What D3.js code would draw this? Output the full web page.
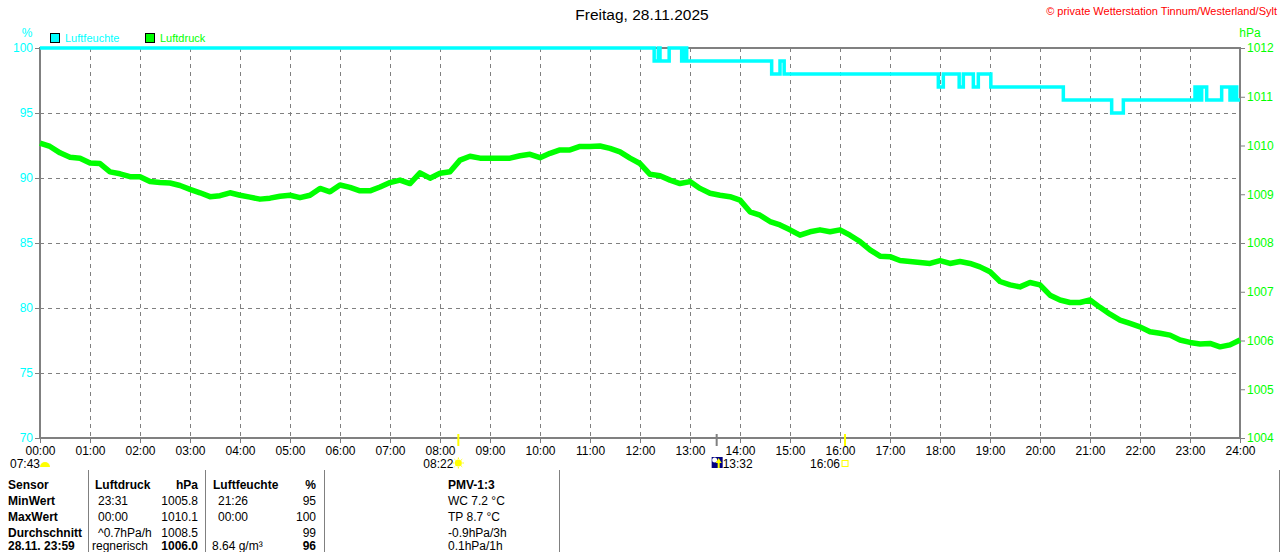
<!DOCTYPE html>
<html>
<head>
<meta charset="utf-8">
<script src="https://cdn.jsdelivr.net/npm/d3@7"></script>
<style>
  body { margin: 0; background: #fff; }
  svg { display: block; font-family: "Liberation Sans", Arial, sans-serif; }
</style>
</head>
<body>
<div class="chart"></div>
<script>
// Luftdruck (hPa), one reading every 12 minutes from 00:00 to 24:00
const pressureStepMin = 12;
const pressure = [
  1010.05, 1009.98, 1009.85, 1009.76, 1009.74, 1009.64, 1009.63, 1009.46, 1009.42, 1009.36,
  1009.36, 1009.26, 1009.24, 1009.23, 1009.18, 1009.10, 1009.03, 1008.95, 1008.97, 1009.03,
  1008.98, 1008.94, 1008.90, 1008.92, 1008.96, 1008.98, 1008.93, 1008.98, 1009.12, 1009.05,
  1009.19, 1009.14, 1009.07, 1009.07, 1009.15, 1009.24, 1009.29, 1009.22, 1009.44, 1009.33,
  1009.43, 1009.46, 1009.70, 1009.78, 1009.74, 1009.74, 1009.74, 1009.74, 1009.79, 1009.82,
  1009.75, 1009.84, 1009.91, 1009.91, 1009.98, 1009.98, 1009.99, 1009.94, 1009.87, 1009.74,
  1009.63, 1009.41, 1009.38, 1009.29, 1009.22, 1009.26, 1009.12, 1009.02, 1008.98, 1008.95,
  1008.88, 1008.64, 1008.57, 1008.44, 1008.37, 1008.27, 1008.16, 1008.23, 1008.27, 1008.23,
  1008.27, 1008.16, 1008.03, 1007.86, 1007.73, 1007.72, 1007.64, 1007.62, 1007.60, 1007.58,
  1007.64, 1007.58, 1007.62, 1007.58, 1007.51, 1007.41, 1007.21, 1007.14, 1007.10, 1007.19,
  1007.14, 1006.93, 1006.83, 1006.78, 1006.78, 1006.83, 1006.68, 1006.54, 1006.42, 1006.35,
  1006.28, 1006.18, 1006.15, 1006.11, 1006.01, 1005.96, 1005.93, 1005.94, 1005.87, 1005.91,
  1006.01
];

// Luftfeuchte (%), value changes
const humTimes = ["00:00", "12:17", "12:22", "12:24", "12:35", "12:50", "12:54", "12:56", "12:59",
  "14:38", "14:48", "14:53", "17:58", "18:04", "18:23", "18:28", "18:40", "18:46", "19:01",
  "20:28", "21:26", "21:40", "23:06", "23:10", "23:14", "23:20", "23:38", "23:48", "23:52",
  "23:56", "24:00"];
const humValues = [100, 99, 100, 99, 100, 99, 100, 99, 99,
  98, 99, 98, 97, 98, 97, 98, 97, 98, 97,
  96, 95, 96, 97, 96, 97, 96, 97, 96, 97,
  96, 96];

const hourLabels = d3.range(0, 25).map(h => String(h).padStart(2, "0") + ":00");
const humTicks = [70, 75, 80, 85, 90, 95, 100];
const pressTicks = [1004, 1005, 1006, 1007, 1008, 1009, 1010, 1011, 1012];

// table below chart
const tableHead = ["Sensor", "Luftdruck", "hPa", "Luftfeuchte", "%"];
const tableRows = [
  ["MinWert", "23:31", "1005.8", "21:26", "95"],
  ["MaxWert", "00:00", "1010.1", "00:00", "100"],
  ["Durchschnitt", "^0.7hPa/h", "1008.5", "", "99"],
  ["28.11. 23:59", "regnerisch", "1006.0", "8.64 g/m³", "96"]
];
const pmvLines = ["PMV-1:3", "WC 7.2 °C", "TP 8.7 °C", "-0.9hPa/3h", "0.1hPa/1h"];

const toMin = s => { const p = s.split(":"); return +p[0] * 60 + +p[1]; };

const width = 1280, height = 552;
const margin = ({ top: 48, right: 40, bottom: 114, left: 40 });

const svg = d3.select(".chart").append("svg")
  .attr("width", width)
  .attr("height", height);

const x = d3.scaleLinear().domain([0, 1440]).range([margin.left, width - margin.right]);
const yH = d3.scaleLinear().domain([70, 100]).range([height - margin.bottom, margin.top]);
const yP = d3.scaleLinear().domain([1004, 1012]).range([height - margin.bottom, margin.top]);

const grey = "#808080";
const cyan = "#00ffff";
const green = "#00ff00";

// grid
const grid = svg.append("g");
grid.selectAll("line.v")
  .data(d3.range(1, 24))
  .join("line")
  .attr("x1", d => x(d * 60)).attr("x2", d => x(d * 60))
  .attr("y1", yH(100)).attr("y2", yH(70))
  .attr("stroke", grey).attr("stroke-dasharray", "4,4").attr("shape-rendering", "crispEdges");
grid.selectAll("line.h")
  .data([75, 80, 85, 90, 95])
  .join("line")
  .attr("x1", x(0)).attr("x2", x(1440))
  .attr("y1", d => yH(d)).attr("y2", d => yH(d))
  .attr("stroke", grey).attr("stroke-dasharray", "4,4").attr("shape-rendering", "crispEdges");

// frame
svg.append("rect")
  .attr("x", x(0)).attr("y", yH(100))
  .attr("width", x(1440) - x(0)).attr("height", yH(70) - yH(100))
  .attr("fill", "none").attr("stroke", grey).attr("stroke-width", 2);

// axes
const axL = svg.append("g")
  .attr("transform", `translate(${x(0) - 1},0)`)
  .call(d3.axisLeft(yH).tickValues(humTicks).tickSize(4).tickPadding(2));
axL.select(".domain").remove();
axL.selectAll("line").attr("stroke", grey);
axL.selectAll("text").attr("fill", cyan).attr("font-size", 12).attr("font-family", "Liberation Sans, Arial");

const axR = svg.append("g")
  .attr("transform", `translate(${x(1440) + 1},0)`)
  .call(d3.axisRight(yP).tickValues(pressTicks).tickSize(4).tickPadding(2).tickFormat(d3.format("d")));
axR.select(".domain").remove();
axR.selectAll("line").attr("stroke", grey);
axR.selectAll("text").attr("fill", green).attr("font-size", 12).attr("font-family", "Liberation Sans, Arial");

const axB = svg.append("g")
  .attr("transform", `translate(0,${yH(70) + 1})`)
  .call(d3.axisBottom(x).tickValues(d3.range(0, 1441, 60)).tickSize(4).tickPadding(3)
    .tickFormat((d, i) => hourLabels[i]));
axB.select(".domain").remove();
axB.selectAll("line").attr("stroke", grey);
axB.selectAll("text").attr("fill", "#000").attr("font-size", 12).attr("font-family", "Liberation Sans, Arial");

// unit labels
svg.append("text").attr("x", 27).attr("y", 37).attr("text-anchor", "middle")
  .attr("fill", cyan).attr("font-size", 12).text("%");
svg.append("text").attr("x", 1250).attr("y", 37).attr("text-anchor", "middle")
  .attr("fill", green).attr("font-size", 12).text("hPa");

// legend
const legend = [{ name: "Luftfeuchte", color: cyan, x: 50 }, { name: "Luftdruck", color: green, x: 145 }];
const lg = svg.append("g").selectAll("g").data(legend).join("g")
  .attr("transform", d => `translate(${d.x},33)`);
lg.append("rect").attr("x", 0.5).attr("y", 0.5).attr("width", 9).attr("height", 9)
  .attr("fill", d => d.color).attr("stroke", "#000");
lg.append("text").attr("x", 15).attr("y", 9).attr("font-size", 11)
  .attr("fill", d => d.color).text(d => d.name);

// title + copyright
svg.append("text").attr("x", 642).attr("y", 20).attr("text-anchor", "middle")
  .attr("font-size", 15.5).attr("fill", "#000").text("Freitag, 28.11.2025");
svg.append("text").attr("x", 1277).attr("y", 15).attr("text-anchor", "end")
  .attr("font-size", 11).attr("fill", "#ff0000").text("© private Wetterstation Tinnum/Westerland/Sylt");

// lines
const humData = humTimes.map((t, i) => ({ t: toMin(t), v: humValues[i] }));
svg.append("path")
  .datum(humData)
  .attr("fill", "none").attr("stroke", cyan).attr("stroke-width", 3.5)
  .attr("d", d3.line().x(d => x(d.t)).y(d => yH(d.v)).curve(d3.curveStepAfter));

const pressData = pressure.map((v, i) => ({ t: i * pressureStepMin, v: v }));
svg.append("path")
  .datum(pressData)
  .attr("fill", "none").attr("stroke", green).attr("stroke-width", 5.5)
  .attr("stroke-linejoin", "round")
  .attr("d", d3.line().x(d => x(d.t)).y(d => yP(d.v)));

// sun / moon markers
const ev = svg.append("g").attr("font-size", 12).attr("fill", "#000");
[["08:22", "#ffff00"], ["16:06", "#ffff00"], ["13:32", grey]].forEach(e => {
  ev.append("line").attr("x1", x(toMin(e[0]))).attr("x2", x(toMin(e[0])))
    .attr("y1", yH(70) - 4).attr("y2", yH(70) + 8)
    .attr("stroke", e[1]).attr("stroke-width", 2);
});
ev.append("text").attr("x", 10).attr("y", 468).text("07:43");
ev.append("path").attr("d", "M40,467 A5,5 0 0 1 50,467 Z").attr("fill", "#ffff00");
ev.append("text").attr("x", x(toMin("08:22")) - 5).attr("y", 468).attr("text-anchor", "end").text("08:22");
ev.append("circle").attr("cx", x(toMin("08:22"))).attr("cy", 463).attr("r", 3.5).attr("fill", "#ffff00");
ev.append("g").attr("stroke", "#ffff00").attr("stroke-width", 1)
  .selectAll("line").data(d3.range(8)).join("line")
  .attr("x1", d => x(toMin("08:22")) + Math.cos(d * Math.PI / 4) * 4)
  .attr("y1", d => 463 + Math.sin(d * Math.PI / 4) * 4)
  .attr("x2", d => x(toMin("08:22")) + Math.cos(d * Math.PI / 4) * 5.5)
  .attr("y2", d => 463 + Math.sin(d * Math.PI / 4) * 5.5);
const mx = x(toMin("13:32"));
ev.append("rect").attr("x", mx - 5).attr("y", 457).attr("width", 11).attr("height", 11).attr("fill", "#000080");
ev.append("circle").attr("cx", mx - 2).attr("cy", 460).attr("r", 2.5).attr("fill", "#fff");
ev.append("path").attr("d", `M${mx + 2},458 L${mx + 5},463 L${mx + 3},463 L${mx + 3},468 L${mx + 1},468 L${mx + 1},463 L${mx - 1},463 Z`)
  .attr("fill", "#ffff00");
ev.append("text").attr("x", mx + 6).attr("y", 468).text("13:32");
ev.append("text").attr("x", x(toMin("16:06")) - 5).attr("y", 468).attr("text-anchor", "end").text("16:06");
ev.append("rect").attr("x", x(toMin("16:06")) - 3).attr("y", 460.5).attr("width", 6).attr("height", 6)
  .attr("fill", "none").attr("stroke", "#ffff00");

// table
const tbl = svg.append("g").attr("font-size", 12).attr("fill", "#000");
[88, 205, 324, 559, 1279].forEach(vx => {
  tbl.append("line").attr("x1", vx).attr("x2", vx).attr("y1", 470).attr("y2", 552)
    .attr("stroke", grey).attr("stroke-width", 1).attr("shape-rendering", "crispEdges");
});
const colX = [8, 95, 198, 213, 316];
const colAnchor = ["start", "start", "end", "start", "end"];
const rowY = [489, 505, 521, 537, 550];
tableHead.forEach((h, i) => {
  tbl.append("text").attr("x", colX[i]).attr("y", rowY[0]).attr("text-anchor", colAnchor[i])
    .attr("font-weight", "bold").text(h);
});
const cellX = [8, 98, 198, 218, 316];
tableRows.forEach((r, j) => {
  r.forEach((c, i) => {
    const last = j === tableRows.length - 1;
    tbl.append("text")
      .attr("x", last && (i === 1 || i === 3) ? cellX[i] - 6 : cellX[i])
      .attr("y", rowY[j + 1])
      .attr("text-anchor", colAnchor[i])
      .attr("font-weight", i === 0 || (last && (i === 2 || i === 4)) ? "bold" : "normal")
      .text(c);
  });
});
pmvLines.forEach((t, i) => {
  tbl.append("text").attr("x", 448).attr("y", rowY[i])
    .attr("font-weight", i === 0 ? "bold" : "normal").text(t);
});
</script>
</body>
</html>
